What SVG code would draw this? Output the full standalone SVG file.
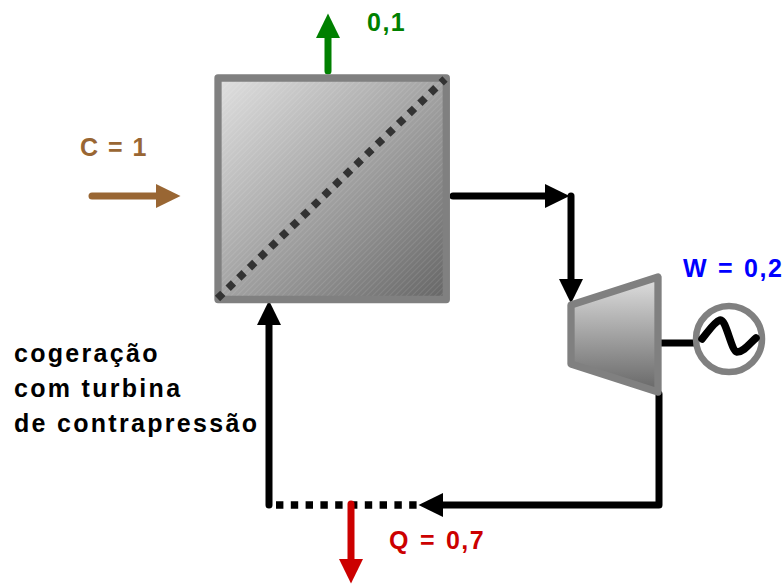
<svg xmlns="http://www.w3.org/2000/svg" width="784" height="584" viewBox="0 0 784 584">
<style>
.t{font-family:"Liberation Sans",Arial,sans-serif;font-weight:700;font-size:25px;letter-spacing:1.5px;word-spacing:1.500px}
.b{letter-spacing:2.3px;word-spacing:0}
.c{fill:none;stroke-linecap:round;stroke-linejoin:round;stroke-width:7px}
.k{stroke:#000}
.u{fill:none;stroke:#808080;stroke-width:7.3px;stroke-linejoin:round}
.d{fill:none;stroke-width:7.6px;stroke-dasharray:7.4 7.4}
</style>
<defs>
<linearGradient id="g1" x1="0" y1="0" x2="1" y2="1"><stop offset="0" stop-color="#e0e0e0"/><stop offset="1" stop-color="#666"/></linearGradient>
<linearGradient id="g2" x1="0" y1="0" x2="0" y2="1"><stop offset="0" stop-color="#e0e0e0"/><stop offset="1" stop-color="#666"/></linearGradient>
<pattern id="h" width="4" height="4" patternUnits="userSpaceOnUse" patternTransform="rotate(-45)"><rect width="4" height="1" fill="#fff" fill-opacity=".1"/></pattern>
<marker id="ak" markerUnits="userSpaceOnUse" markerWidth="26" markerHeight="26" refX="1" refY="12" orient="auto"><path d="M0 0L24.500 12L0 24Z" fill="#000"/></marker>
<marker id="ag" markerUnits="userSpaceOnUse" markerWidth="26" markerHeight="26" refX="1" refY="12" orient="auto"><path d="M0 0L24.500 12L0 24Z" fill="#008000"/></marker>
<marker id="ab" markerUnits="userSpaceOnUse" markerWidth="26" markerHeight="26" refX="1" refY="12" orient="auto"><path d="M0 0L24.500 12L0 24Z" fill="#996633"/></marker>
<marker id="ar" markerUnits="userSpaceOnUse" markerWidth="26" markerHeight="26" refX="1" refY="12" orient="auto"><path d="M0 0L24.500 12L0 24Z" fill="#cc0000"/></marker>
</defs>
<g id="connectors">
<path class="c" stroke="#008000" d="M328 71V37" marker-end="url(#ag)"/>
<path class="c" stroke="#996633" d="M92 196H157" marker-end="url(#ab)"/>
<path class="c k" d="M453 196H546" marker-end="url(#ak)"/>
<path class="c k" d="M571 196V280" marker-end="url(#ak)"/>
<path class="c k" d="M659 394V505H442" marker-end="url(#ak)"/>
<path class="c k" d="M269 505V324" marker-end="url(#ak)"/>
<path class="d" stroke="#000" d="M276 505H420"/>
<path class="c" stroke="#cc0000" d="M351 504V560" marker-end="url(#ar)"/>
<path class="c k" d="M657 343H695"/>
</g>
<g id="exchanger">
<rect x="218" y="78" width="228.300" height="221.500" fill="url(#g1)"/>
<rect x="218" y="78" width="228.300" height="221.500" fill="url(#h)"/>
<rect class="u" x="218" y="78" width="228.300" height="221.500"/>
<path class="d" stroke="#333" d="M217.500 298.500L445 79"/>
</g>
<g id="turbine">
<path d="M571 305L658 277V392L571 364Z" class="u" style="fill:url(#g2)"/>
</g>
<g id="generator">
<circle cx="729" cy="339" r="33" fill="#fff" stroke="#808080" stroke-width="6.500"/>
<path class="c k" style="stroke-width:7.500px" d="M702 339C708 332 714 322 720 320C726 318 731 351 737 352C744 352 750 343 756 338"/>
</g>
<g id="labels">
<text class="t" x="367" y="31" fill="#008000">0,1</text>
<text class="t" x="80" y="156" fill="#996633" style="word-spacing:0">C = 1</text>
<text class="t" x="683" y="277" fill="#0000ff">W = 0,2</text>
<text class="t" x="389" y="549" fill="#cc0000">Q = 0,7</text>
<text class="t b" x="14" y="362" fill="#000">cogeração</text>
<text class="t b" x="14" y="397" fill="#000">com turbina</text>
<text class="t b" x="14" y="432" fill="#000">de contrapressão</text>
</g>
</svg>
